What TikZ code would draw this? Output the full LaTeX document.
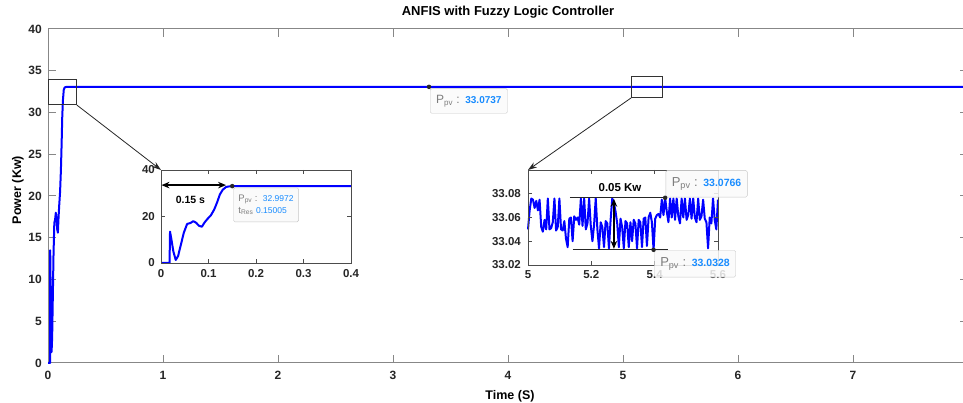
\documentclass[tikz,border=0pt]{standalone}
\usepackage{fontspec}
\setmainfont{Liberation Sans}
\usetikzlibrary{arrows.meta}
\definecolor{tipblue}{RGB}{25,140,255}
\definecolor{tipgray}{RGB}{125,125,125}
\definecolor{axgray}{RGB}{135,135,135}
% rise of the PV power, shared by main plot and first inset
\newcommand{\pvrise}{(0,0) -- (0.018,0) -- (0.019,13.5) -- (0.022,10) -- (0.026,5) -- (0.031,1.3) -- (0.036,3) -- (0.042,8) -- (0.048,13) -- (0.055,16.8) -- (0.062,17.2) -- (0.068,18) -- (0.074,17.3) -- (0.08,16) -- (0.086,15.6) -- (0.092,17.5) -- (0.098,19) -- (0.105,20.5) -- (0.112,23) -- (0.118,26) -- (0.124,29.5) -- (0.13,31.5) -- (0.137,32.7) -- (0.145,33) -- (0.16,33.07)}

\begin{document}
\begin{tikzpicture}[x=1pt, y=1pt,
		axisline/.style={draw=axgray, line width=1pt},
		insetaxis/.style={draw=black!70, line width=0.8pt},
		pvline/.style={draw=blue, line width=2pt, line join=round},
		ticklbl/.style={font=\fontsize{12}{12}\selectfont\bfseries, text=black!85, inner sep=1pt},
		smalllbl/.style={font=\fontsize{11.5}{12}\selectfont\bfseries, text=black!85, inner sep=1pt},
		zoombox/.style={draw=black!80, line width=1pt},
		tipbox/.style={draw=black!22, fill=black!2, fill opacity=0.85, text opacity=1, rounded corners=1.5pt, inner xsep=5pt, inner ysep=4pt, align=left},
		tipdot/.style={circle, fill=black!85, inner sep=0pt, minimum size=4.5pt},
		zoomarrow/.style={draw=black!85, line width=0.8pt, -{Stealth[length=9pt,width=6pt]}},
		dimarrow/.style={draw=black, line width=1.4pt, {Stealth[length=8pt,width=6.5pt]}-{Stealth[length=8pt,width=6.5pt]}},
		markline/.style={draw=black!85, line width=0.8pt},
	]

	\useasboundingbox (0,0) rectangle (963,403);

	\node[font=\fontsize{13}{13}\selectfont\bfseries] (title) at (508,391) {ANFIS with Fuzzy Logic Controller};
	\node[font=\fontsize{12.5}{13}\selectfont\bfseries, rotate=90] (ylabel) at (18,213) {Power (Kw)};
	\node[font=\fontsize{12.5}{13}\selectfont\bfseries] (xlabel) at (510,7) {Time (S)};

	% main axes
	\begin{scope}[shift={(48pt,40pt)}, x=115pt, y=8.35pt]
		\draw[axisline] (0,0) rectangle (8,40);
		\foreach \t in {1,...,7} {
			\draw[axisline] (\t,0) -- ++(0,8pt);
			\draw[axisline] (\t,40) -- ++(0,-8pt);
		}
		\foreach \p in {5,10,...,35} {
			\draw[axisline] (0,\p) -- ++(8pt,0);
			\draw[axisline] (8,\p) -- ++(-8pt,0);
		}
		\foreach \t in {0,...,7}
			\node[ticklbl, anchor=north] (xtick\t) at ([yshift=-7pt]\t,0) {\t};
		\foreach \p in {0,5,...,40}
			\node[ticklbl, anchor=east] (ytick\p) at ([xshift=-5pt]0,\p) {\p};

		\draw[pvline] \pvrise -- (8,33.07);

		\draw[zoombox] (0,30.9) rectangle (0.25,34);
		\coordinate (zoomA) at (0.25,30.9);
		\draw[zoombox] (5.07,31.74) rectangle (5.34,34.37);
		\coordinate (zoomB) at (5.07,31.74);

		\coordinate (tipMainAt) at (3.313,33.07);
		\node[tipbox, anchor=north west, inner ysep=6.5pt, inner xsep=6pt] (tipMainBox) at ([xshift=1pt,yshift=-1.5pt]tipMainAt)
			{{\fontsize{12}{12}\selectfont\color{tipgray}P\textsubscript{pv} :}\ \ {\fontsize{10}{12}\selectfont\bfseries\color{tipblue}33.0737}};
		\node[tipdot] (tipMain) at (tipMainAt) {};
	\end{scope}

	% first inset, start-up
	\begin{scope}[shift={(161pt,140pt)}, x=475pt, y=2.325pt]
		\fill[white] (0,0) rectangle (0.4,40);
		\draw[pvline] \pvrise -- (0.4,33.07);
		\draw[insetaxis] (0,0) rectangle (0.4,40);
		\foreach \t in {0.1,0.2,0.3} {
			\draw[insetaxis] (\t,0) -- ++(0,4pt);
			\draw[insetaxis] (\t,40) -- ++(0,-4pt);
		}
		\draw[insetaxis] (0,20) -- ++(4pt,0);
		\draw[insetaxis] (0.4,20) -- ++(-4pt,0);
		\foreach \t [count=\k] in {0,0.1,0.2,0.3,0.4}
			\node[smalllbl, anchor=north] (riseX\k) at ([yshift=-5pt]\t,0) {\t};
		\foreach \p in {0,20,40}
			\node[smalllbl, anchor=east] (riseY\p) at ([xshift=-5pt]0,\p) {\p};
		\coordinate (insetA) at (0,40);

		\coordinate (riseL) at (0.001,33.5);
		\coordinate (riseR) at (0.137,33.5);
		\draw[dimarrow] (riseL) -- (riseR);
		\node[font=\fontsize{10.5}{12}\selectfont\bfseries] (riseTime) at (0.062,27.3) {0.15 s};

		\coordinate (tipRiseAt) at (0.15,33.07);
		\node[tipbox, anchor=north west, inner xsep=5pt, inner ysep=7pt] (tipRiseBox) at ([xshift=1pt,yshift=-1.5pt]tipRiseAt)
			{\fontsize{9.5}{15}\selectfont{\color{tipgray}P\textsubscript{pv} :}\ \ {\fontsize{8.5}{15}\selectfont\color{tipblue}32.9972}\\
			 \fontsize{9.5}{15}\selectfont{\color{tipgray}t\textsubscript{Res}}\ {\fontsize{8.5}{15}\selectfont\color{tipblue}0.15005}};
		\node[tipdot] (tipRise) at (tipRiseAt) {};
	\end{scope}

	% second inset, ripple at steady state (v = 100*(P - 33.02))
	\begin{scope}[shift={(528pt,138pt)}, x=1.652pt, y=11.875pt]
		\fill[white] (0,0) rectangle (115,8);
		\draw[pvline] (0,3.0) \foreach \v [count=\i] in {4.6,5.6,5.5,4.8,5.4,4.6,5.5,3.2,2.8,3.8,3.0,5.6,3.0,3.1,3.6,5.6,2.9,3.2,5.6,3.0,2.9,3.7,2.2,1.5,3.9,4.0,2.0,4.1,3.8,4.0,3.4,5.6,3.3,5.6,3.0,3.5,5.6,3.3,2.0,3.4,5.6,3.0,1.4,3.6,3.2,1.5,3.7,3.5,1.4,3.8,5.6,5.2,4.5,3.5,1.5,3.9,3.2,1.4,3.7,3.5,1.5,3.6,2.0,3.8,3.5,1.4,3.8,3.6,1.5,3.9,4.0,1.6,4.0,4.4,3.6,1.28,3.9,4.2,4.3,4.0,5.5,4.2,5.66,4.5,3.6,5.6,4.0,5.6,3.8,5.6,4.1,3.5,5.6,4.0,5.6,3.8,4.2,5.6,3.9,5.6,4.0,3.6,5.6,3.8,4.1,5.5,3.9,3.6,1.4,4.0,3.5,5.6,3.8,3.0,5.5} { -- (\i,\v) };
		\draw[insetaxis] (0,0) rectangle (115,8);
		\foreach \t in {38.33,76.67} {
			\draw[insetaxis] (\t,0) -- ++(0,4pt);
			\draw[insetaxis] (\t,8) -- ++(0,-4pt);
		}
		\foreach \p in {2,4,6} {
			\draw[insetaxis] (0,\p) -- ++(4pt,0);
			\draw[insetaxis] (115,\p) -- ++(-4pt,0);
		}
		\foreach \t/\lbl [count=\k] in {0/5,38.33/5.2,76.67/5.4,115/5.6}
			\node[smalllbl, anchor=north] (rippleX\k) at ([yshift=-4pt]\t,0) {\lbl};
		\foreach \p/\lbl in {0/33.02,2/33.04,4/33.06,6/33.08}
			\node[smalllbl, anchor=east] (rippleY\p) at ([xshift=-6pt]0,\p) {\lbl};
		\coordinate (insetB) at (0,8);

		\coordinate (tipHiAt) at (83,5.66);
		\coordinate (tipLoAt) at (76,1.28);
		\coordinate (hiStart) at (25.4,5.66);
		\coordinate (loStart) at (27,1.28);
		\coordinate (loEnd) at (85,1.28);
		\draw[markline] (hiStart) -- (tipHiAt);
		\draw[markline] (loStart) -- (loEnd);
		\coordinate (bandTop) at (52,5.58);
		\coordinate (bandBot) at (52,1.36);
		\draw[dimarrow] (bandTop) -- (bandBot);
		\node[font=\fontsize{11.5}{12}\selectfont\bfseries] (band) at (55.7,6.5) {0.05 Kw};

		\node[tipbox, anchor=south west, inner ysep=7pt, inner xsep=6pt] (tipHiBox) at ([xshift=0.5pt,yshift=0.5pt]tipHiAt)
			{{\fontsize{13}{13}\selectfont\color{tipgray}P\textsubscript{pv} :}\ \ {\fontsize{10.5}{12}\selectfont\bfseries\color{tipblue}33.0766}};
		\node[tipbox, anchor=north west, inner ysep=7pt, inner xsep=6pt] (tipLoBox) at ([xshift=0.5pt,yshift=-0.5pt]tipLoAt)
			{{\fontsize{13}{13}\selectfont\color{tipgray}P\textsubscript{pv} :}\ \ {\fontsize{10.5}{12}\selectfont\bfseries\color{tipblue}33.0328}};
		\node[tipdot] (tipHi) at (tipHiAt) {};
		\node[tipdot] (tipLo) at (tipLoAt) {};
	\end{scope}

	\draw[zoomarrow] (zoomA) -- (insetA);
	\draw[zoomarrow] (zoomB) -- (insetB);

\end{tikzpicture}
\end{document}
